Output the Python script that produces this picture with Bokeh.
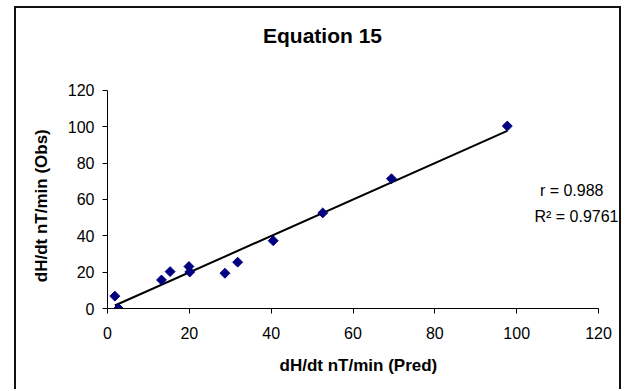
import numpy as np
from bokeh.plotting import figure
from bokeh.models import FixedTicker, Label, ColumnDataSource, Range1d
from bokeh.embed import file_html
from bokeh.resources import INLINE

# Data
pred = [1.8, 2.7, 13.2, 15.3, 19.9, 20.1, 28.7, 31.8, 40.5, 52.6, 69.4, 97.7]
obs = [6.8, 0.0, 15.7, 20.3, 23.1, 20.1, 19.4, 25.5, 37.3, 52.6, 71.4, 100.4]
tick_values = [0, 20, 40, 60, 80, 100, 120]
axis_min, axis_max = 0, 120
title_text = "Equation 15"
x_title = "dH/dt nT/min (Pred)"
y_title = "dH/dt nT/min (Obs)"
r_text = "r = 0.988"
r2_text = "R\u00b2 = 0.9761"

FONT = "Liberation Sans"
NBSP = "\u00a0"

# The frame fills the canvas to its top and right edges so that the title and
# the r / R^2 notes (drawn as labels) are not clipped; the axes stop at 120.
p = figure(width=607, height=383, output_backend="svg", toolbar_location=None,
           x_range=Range1d(0, 126.1), y_range=Range1d(0, 165.1))
p.margin = (6, 0, 0, 14)
p.styles = {"border-top": "2px solid #111", "border-left": "2px solid #111",
            "border-right": "2px solid #111"}
p.min_border_left = 91
p.min_border_right = 0
p.min_border_top = 0
p.min_border_bottom = 83
p.outline_line_color = None
p.background_fill_color = "white"
p.border_fill_color = "white"
p.xgrid.visible = False
p.ygrid.visible = False

for ax in (p.xaxis[0], p.yaxis[0]):
    ax.ticker = FixedTicker(ticks=tick_values)
    ax.bounds = (axis_min, axis_max)
    ax.minor_tick_line_color = None
    ax.major_tick_in = 0
    ax.major_tick_out = 5
    ax.axis_line_color = "black"
    ax.major_tick_line_color = "black"
    ax.major_label_text_font = FONT
    ax.major_label_text_font_size = "16px"
    ax.major_label_text_color = "black"
    ax.axis_label_text_font = FONT
    ax.axis_label_text_font_size = "17px"
    ax.axis_label_text_font_style = "bold"
    ax.axis_label_text_color = "black"

# axis titles are centred on the axis span (0-120), not on the wider frame:
# trailing no-break spaces shift the visible text back to that centre
p.xaxis.axis_label = x_title + NBSP * 3
p.yaxis.axis_label = y_title + NBSP * 20
p.xaxis.major_label_standoff = 13
p.yaxis.major_label_standoff = 8
p.xaxis.axis_label_standoff = 14
p.yaxis.axis_label_standoff = 14

# Linear trendline (least-squares fit of the data)
slope, intercept = np.polyfit(pred, obs, 1)
xs = [min(pred), max(pred)]
ys = [slope * x + intercept for x in xs]
p.line(xs, ys, line_color="black", line_width=2)

src = ColumnDataSource(dict(x=pred, y=obs))
p.scatter("x", "y", source=src, marker="square", size=7, angle=np.pi / 4,
          fill_color="#000080", line_color="#000080")

# screen units are measured from the frame's bottom-left corner
p.add_layout(Label(x=215, y=273, x_units="screen", y_units="screen", text=title_text,
                   text_font=FONT, text_font_size="21px", text_font_style="bold",
                   text_align="center", text_baseline="middle", text_color="black"))
p.add_layout(Label(x=496, y=118, x_units="screen", y_units="screen", text=r_text,
                   text_font=FONT, text_font_size="16px",
                   text_align="right", text_baseline="middle", text_color="black"))
p.add_layout(Label(x=511, y=92, x_units="screen", y_units="screen", text=r2_text,
                   text_font=FONT, text_font_size="16px",
                   text_align="right", text_baseline="middle", text_color="black"))

open("out.html", "w").write(file_html(p, INLINE))
